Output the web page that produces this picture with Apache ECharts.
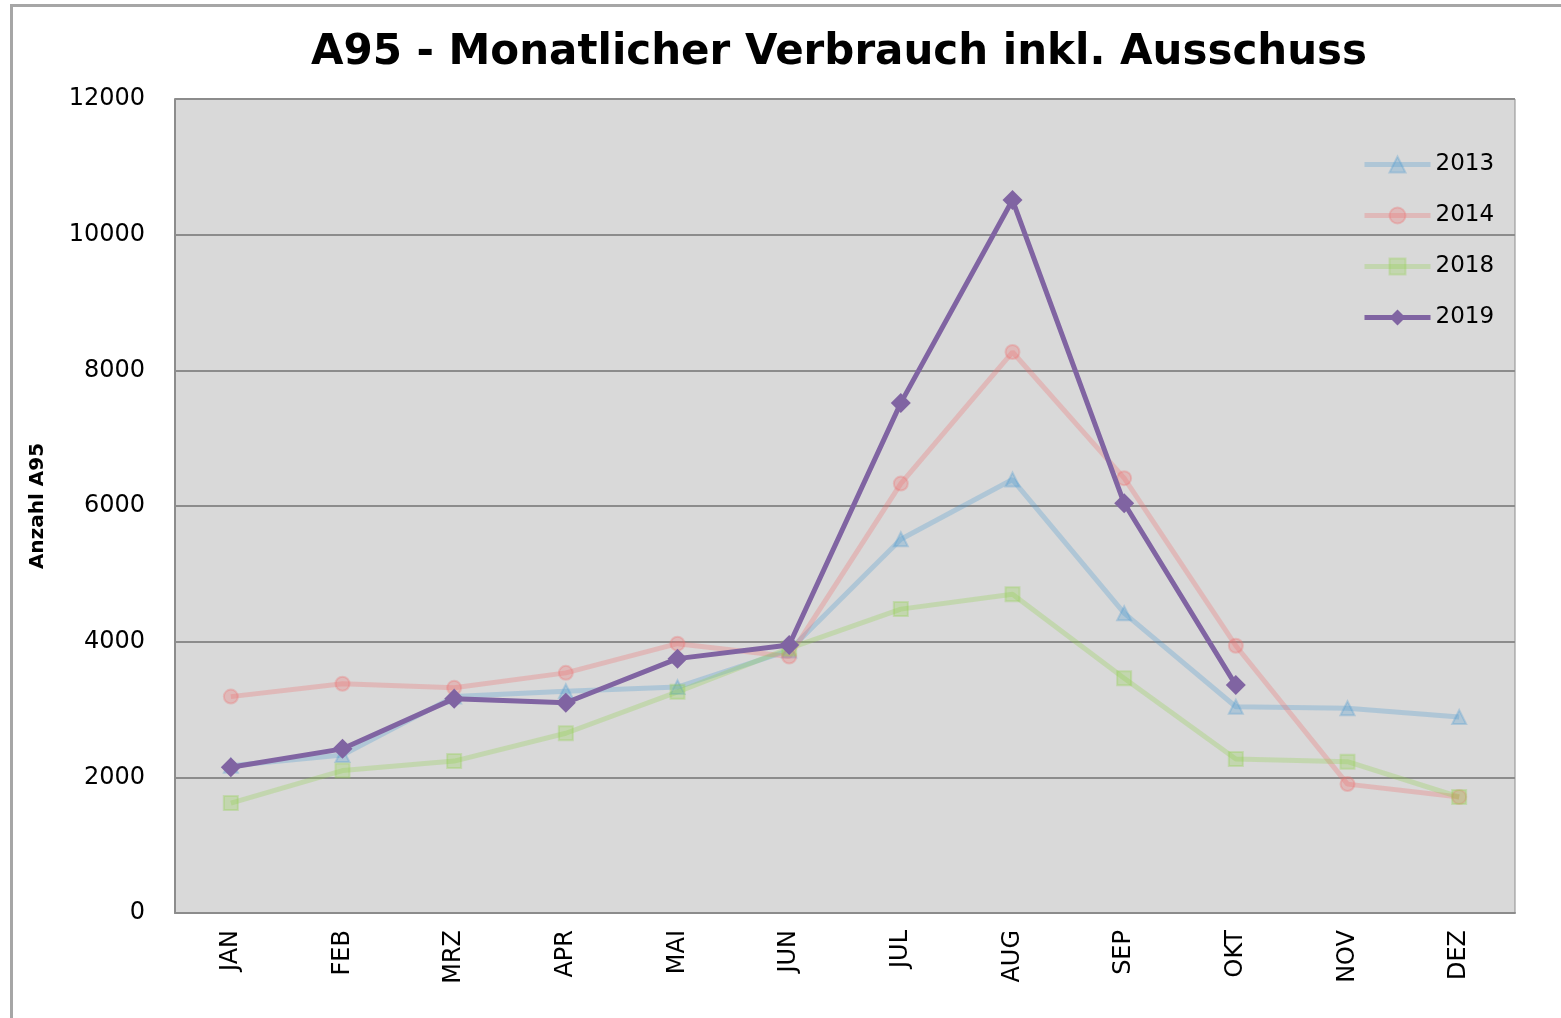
<!DOCTYPE html>
<html>
<head>
<meta charset="utf-8">
<script src="https://cdn.jsdelivr.net/npm/echarts@6/dist/echarts.min.js"></script>
<style>
  html, body { margin: 0; padding: 0; background: #ffffff; }
  #chart { width: 1561px; height: 1018px; }
</style>
</head>
<body>
<div id="chart"></div>
<script>
// Monatlicher Verbrauch A95 je Jahr
const months = ['JAN', 'FEB', 'MRZ', 'APR', 'MAI', 'JUN', 'JUL', 'AUG', 'SEP', 'OKT', 'NOV', 'DEZ'];
const v2013 = [2170, 2330, 3190, 3270, 3330, 3870, 5510, 6390, 4420, 3040, 3020, 2890];
const v2014 = [3190, 3380, 3320, 3540, 3970, 3780, 6330, 8270, 6410, 3940, 1900, 1710];
const v2018 = [1620, 2100, 2240, 2650, 3260, 3900, 4480, 4700, 3460, 2270, 2230, 1710];
const v2019 = [2150, 2420, 3160, 3100, 3750, 3950, 7520, 10510, 6040, 3360, null, null];
const yTicks = [0, 2000, 4000, 6000, 8000, 10000, 12000];

const font = 'DejaVu Sans';

function faded(name, data, color, symbol, size) {
  return {
    name: name,
    type: 'line',
    data: data,
    symbol: symbol,
    symbolSize: size,
    lineStyle: { width: 5, color: color, opacity: 0.3 },
    itemStyle: { color: color, opacity: 0.3, borderColor: color, borderWidth: 2 },
    emphasis: { disabled: true },
    z: 2
  };
}

const chart = echarts.init(document.getElementById('chart'));
chart.setOption({
  animation: false,
  backgroundColor: '#ffffff',
  title: {
    text: 'A95 - Monatlicher Verbrauch inkl. Ausschuss',
    left: 834,
    textAlign: 'center',
    top: 27,
    textStyle: { fontFamily: font, fontWeight: 'bold', fontSize: 42, color: '#000000' }
  },
  graphic: [
    {
      type: 'rect',
      shape: { x: 11.5, y: 5.5, width: 1600, height: 1100 },
      style: { fill: null, stroke: '#a6a6a6', lineWidth: 3 },
      silent: true,
      z: -10
    }
  ],
  legend: {
    orient: 'vertical',
    left: 1362,
    top: 153,
    padding: 0,
    itemWidth: 66,
    itemHeight: 20,
    itemGap: 28,
    textStyle: { fontFamily: font, fontSize: 23, color: '#000000' },
    lineStyle: { width: 5 },
    data: ['2013', '2014', '2018', '2019']
  },
  grid: {
    left: 175,
    top: 99,
    width: 1340,
    height: 814,
    show: true,
    backgroundColor: '#d9d9d9',
    borderColor: '#8c8c8c',
    borderWidth: 1
  },
  xAxis: {
    type: 'category',
    data: months,
    boundaryGap: true,
    axisLine: { show: true, lineStyle: { color: '#8c8c8c', width: 2 } },
    axisTick: { show: false },
    axisLabel: {
      rotate: 90,
      margin: 17,
      fontFamily: font,
      fontSize: 24,
      color: '#000000'
    }
  },
  yAxis: {
    type: 'value',
    min: yTicks[0],
    max: yTicks[yTicks.length - 1],
    interval: 2000,
    name: 'Anzahl A95',
    nameLocation: 'middle',
    nameGap: 127,
    nameRotate: 90,
    nameTextStyle: { fontFamily: font, fontWeight: 'bold', fontSize: 20, color: '#000000' },
    axisLine: { show: true, lineStyle: { color: '#8c8c8c', width: 2 } },
    axisTick: { show: false },
    axisLabel: {
      margin: 30,
      fontFamily: font,
      fontSize: 24,
      color: '#000000',
      formatter: function (v) { return String(v); }
    },
    splitLine: { show: true, lineStyle: { color: '#8c8c8c', width: 2 } }
  },
  series: [
    faded('2013', v2013, '#4f9bd0', 'triangle', 14),
    faded('2014', v2014, '#f07070', 'circle', 14),
    faded('2018', v2018, '#92d050', 'rect', 14),
    {
      name: '2019',
      type: 'line',
      data: v2019,
      symbol: 'diamond',
      symbolSize: 20,
      lineStyle: { width: 5, color: '#8064a2' },
      itemStyle: { color: '#8064a2' },
      emphasis: { disabled: true },
      z: 5
    }
  ]
});
</script>
</body>
</html>
